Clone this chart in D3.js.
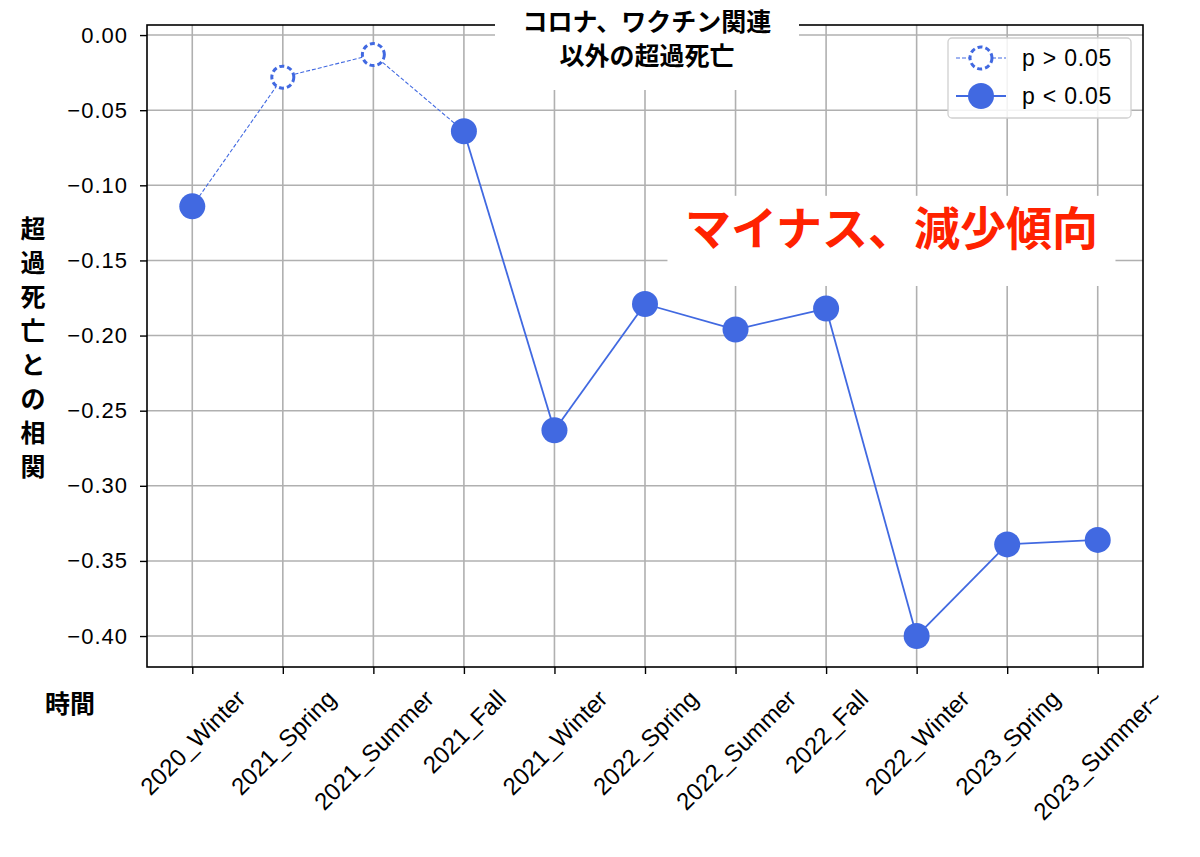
<!DOCTYPE html>
<html>
<head>
<meta charset="utf-8">
<script src="https://cdn.jsdelivr.net/npm/d3@7"></script>
<style>
  body { margin: 0; background: #fff; }
  svg text { font-family: "Liberation Sans", "Noto Sans CJK JP", sans-serif; }
  .jp { font-family: "Noto Sans CJK JP", sans-serif; font-weight: bold; }
</style>
</head>
<body>
<svg id="chart" width="1200" height="857"></svg>
<script>
// data
const periods = ["2020_Winter", "2021_Spring", "2021_Summer", "2021_Fall", "2021_Winter",
  "2022_Spring", "2022_Summer", "2022_Fall", "2022_Winter", "2023_Spring", "2023_Summer~"];
const corr = [-0.114, -0.028, -0.013, -0.064, -0.263, -0.179, -0.196, -0.182, -0.400, -0.339, -0.336];
const significant = [true, false, false, true, true, true, true, true, true, true, true];
const y_ticks = [0, -0.05, -0.10, -0.15, -0.20, -0.25, -0.30, -0.35, -0.40];
const title_lines = ["コロナ、ワクチン関連", "以外の超過死亡"];
const y_label = "超過死亡との相関";
const x_label = "時間";
const note = "マイナス、減少傾向";

const blue = "#4169e1";
const svg = d3.select("svg#chart");
const margin = { left: 147, right: 57, top: 25, bottom: 190 };
const width = svg.attr("width") - margin.left - margin.right;
const height = svg.attr("height") - margin.top - margin.bottom;

const x = d3.scaleLinear().domain([-0.5, periods.length - 0.5]).range([0, width]);
const y = d3.scaleLinear().domain([-0.4206, 0.0067]).range([height, 0]);

const g = svg.append("g").attr("transform", `translate(${margin.left}, ${margin.top})`);

// grid
g.append("g").selectAll("line.vg").data(periods).join("line")
  .attr("x1", (d, i) => x(i)).attr("x2", (d, i) => x(i))
  .attr("y1", 0).attr("y2", height)
  .attr("stroke", "#b0b0b0").attr("stroke-width", 1.6);
g.append("g").selectAll("line.hg").data(y_ticks).join("line")
  .attr("x1", 0).attr("x2", width)
  .attr("y1", d => y(d)).attr("y2", d => y(d))
  .attr("stroke", "#b0b0b0").attr("stroke-width", 1.6);

// axes
const yAxis = g.append("g")
  .call(d3.axisLeft(y).tickValues(y_ticks).tickSize(7).tickPadding(12)
    .tickFormat(d => d3.format(".2f")(d).replace("-", "−")));
yAxis.select(".domain").remove();
yAxis.selectAll("line").attr("stroke", "#000").attr("stroke-width", 1.4);
yAxis.selectAll("text").attr("font-size", 22).attr("fill", "#000")
  .attr("letter-spacing", 1)
  .style("font-family", "Liberation Sans, sans-serif");

const xAxis = g.append("g").attr("transform", `translate(0, ${height})`)
  .call(d3.axisBottom(x).tickValues(d3.range(periods.length)).tickSize(7)
    .tickFormat(i => periods[i]));
xAxis.select(".domain").remove();
xAxis.selectAll("line").attr("stroke", "#000").attr("stroke-width", 1.4);
// rotated labels, box centred on the tick (matplotlib style)
const xfs = 24;
xAxis.selectAll("text")
  .attr("font-size", xfs).attr("fill", "#000")
  .attr("text-anchor", "middle")
  .attr("y", 0).attr("dy", "0.35em")
  .attr("transform", function() {
    const ext = (this.getComputedTextLength() + xfs * 0.75) * Math.SQRT1_2;
    return `translate(0, ${21 + ext / 2}) rotate(-45)`;
  });

// frame
g.append("rect").attr("width", width).attr("height", height)
  .attr("fill", "none").attr("stroke", "#000").attr("stroke-width", 1.6);

// lines: dashed where a segment touches a non-significant point
const pts = corr.map((v, i) => ({ i: i, v: v, sig: significant[i] }));
const segs = pts.slice(1).map((p, k) => ({ a: pts[k], b: p, dashed: !(pts[k].sig && p.sig) }));
g.append("g").selectAll("line.seg").data(segs).join("line")
  .attr("x1", d => x(d.a.i)).attr("y1", d => y(d.a.v))
  .attr("x2", d => x(d.b.i)).attr("y2", d => y(d.b.v))
  .attr("stroke", blue)
  .attr("stroke-width", d => d.dashed ? 1.1 : 1.8)
  .attr("stroke-dasharray", d => d.dashed ? "4,2" : null);

// markers
g.append("g").selectAll("circle.pt").data(pts).join("circle")
  .attr("cx", d => x(d.i)).attr("cy", d => y(d.v))
  .attr("r", d => d.sig ? 13 : 11)
  .attr("fill", d => d.sig ? blue : "#fff")
  .attr("stroke", blue)
  .attr("stroke-width", d => d.sig ? 0 : 3)
  .attr("stroke-dasharray", d => d.sig ? null : "5,3");

// title box
const cx = width / 2 + 2;
g.append("rect").attr("x", cx - 152).attr("y", -15).attr("width", 304).attr("height", 80).attr("fill", "#fff");
g.append("g").selectAll("text").data(title_lines).join("text")
  .attr("class", "jp").attr("x", cx).attr("y", (d, i) => 6 + i * 34)
  .attr("text-anchor", "middle").attr("font-size", 25).attr("fill", "#000")
  .text(d => d);

// red note
const noteX = x(7.7) + 2;
g.append("rect").attr("x", noteX - 224).attr("y", y(-0.107)).attr("width", 448)
  .attr("height", y(-0.167) - y(-0.107)).attr("fill", "#fff");
g.append("text").attr("class", "jp")
  .attr("x", noteX).attr("y", y(-0.1395))
  .attr("text-anchor", "middle").attr("font-size", 46).attr("fill", "#ff2200")
  .text(note);

// legend
const legend = g.append("g").attr("transform", `translate(${width - 195}, 13)`);
legend.append("rect").attr("width", 183).attr("height", 80).attr("rx", 4)
  .attr("fill", "#fff").attr("fill-opacity", 0.85).attr("stroke", "#d0d0d0").attr("stroke-width", 1.3);
const legend_items = [{ label: "p > 0.05", sig: false }, { label: "p < 0.05", sig: true }];
const li = legend.selectAll("g.item").data(legend_items).join("g")
  .attr("transform", (d, i) => `translate(0, ${20 + i * 38})`);
li.append("line").attr("x1", 8).attr("x2", 58).attr("y1", 0).attr("y2", 0)
  .attr("stroke", blue)
  .attr("stroke-width", d => d.sig ? 1.8 : 1.1)
  .attr("stroke-dasharray", d => d.sig ? null : "4,2");
li.append("circle").attr("cx", 33).attr("cy", 0)
  .attr("r", d => d.sig ? 13 : 11)
  .attr("fill", d => d.sig ? blue : "#fff")
  .attr("stroke", blue)
  .attr("stroke-width", d => d.sig ? 0 : 3)
  .attr("stroke-dasharray", d => d.sig ? null : "5,3");
li.append("text").attr("x", 74).attr("y", 8).attr("font-size", 23).attr("fill", "#000")
  .attr("letter-spacing", 0.8)
  .text(d => d.label);

// y label, stacked characters
svg.append("g").selectAll("text").data(Array.from(y_label)).join("text")
  .attr("class", "jp").attr("x", 33).attr("y", (d, i) => 238 + i * 34)
  .attr("text-anchor", "middle").attr("font-size", 25).attr("fill", "#000")
  .text(d => d);

// x label
svg.append("text").attr("class", "jp").attr("x", 70).attr("y", 713)
  .attr("text-anchor", "middle").attr("font-size", 25).attr("fill", "#000")
  .text(x_label);
</script>
</body>
</html>
